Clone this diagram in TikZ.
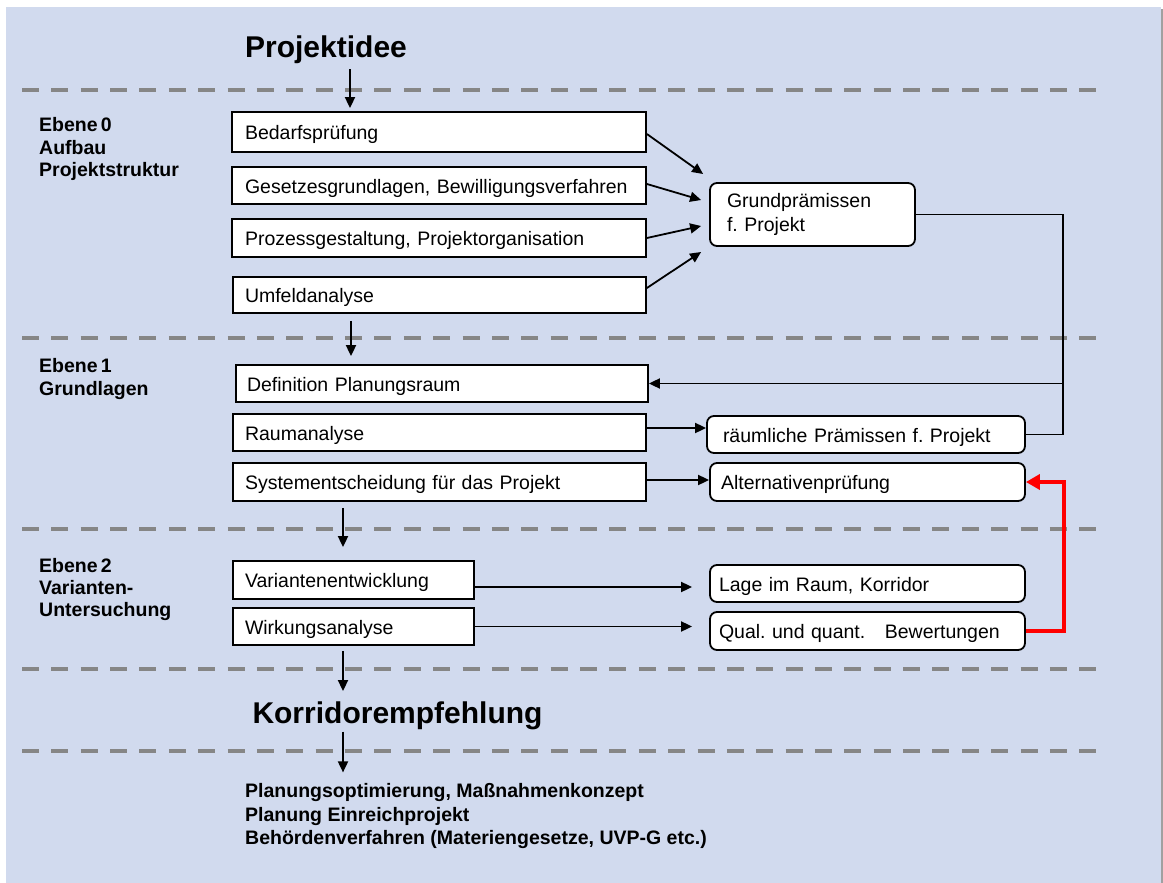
\documentclass[tikz,border=0pt]{standalone}
\usepackage{fontspec}
\setmainfont{Liberation Sans}
\usetikzlibrary{arrows.meta,calc}
\frenchspacing
\definecolor{bgblue}{RGB}{209,218,238}
\definecolor{dashgray}{RGB}{134,134,134}
\definecolor{shadowgray}{RGB}{160,160,160}
\newcommand\boxfont{\fontsize{19.5}{23.5}\selectfont}
\newcommand\lblfont{\fontsize{19.5}{22.5}\selectfont\bfseries}
\newcommand\bigfont{\fontsize{30}{36}\selectfont\bfseries}
\begin{document}
\begin{tikzpicture}[x=1pt,y=-1pt,
  shapebox/.style={draw=black, line width=1.8pt, fill=white, inner ysep=0pt, align=left, font=\boxfont, anchor=center},
  box/.style={shapebox, text height=15pt, text depth=0pt},
  rbox/.style={box, rounded corners=7pt},
  gpbox/.style={shapebox, rounded corners=7pt},
  arr/.style={line width=1.8pt, -{Triangle[length=11pt,width=10pt]}},
  conn/.style={line width=1.8pt},
  redarr/.style={draw=red, line width=4pt, -{Triangle[length=14pt,width=15pt]}},
  level/.style={dashgray, line width=4.5pt, dash pattern=on 17pt off 12.37pt},
  lbl/.style={anchor=north west, inner sep=0pt, align=left, font=\lblfont},
  title/.style={anchor=base, inner sep=0pt, font=\bigfont}
]
\useasboundingbox (0,0) rectangle (1163,883);
\fill[white] (0,0) rectangle (1163,883);
\fill[bgblue] (6,7) rectangle (1161,883);
\fill[shadowgray] (1161,9) rectangle (1163,883);

% level separators
\draw[level] (22,90) -- (1097,90);
\draw[level] (22,338) -- (1097,338);
\draw[level] (22,529) -- (1097,529);
\draw[level] (22,669) -- (1097,669);
\draw[level] (22,751) -- (1097,751);

% titles
\node[title] (proj) at (326,58) {Projektidee};
\node[title] (korr) at (397.5,723) {Korridorempfehlung};

% level labels
\node[lbl] (l0) at (39,117.4) {Ebene\,0\\Aufbau\\Projektstruktur};
\node[lbl, font=\fontsize{19.5}{23}\selectfont\bfseries] (l1) at (39,358.4) {Ebene\,1\\Grundlagen};
\node[lbl, font=\fontsize{19.5}{21.7}\selectfont\bfseries] (l2) at (39,558.4) {Ebene\,2\\Varianten-\\Untersuchung};
\node[lbl, font=\fontsize{19.5}{23.5}\selectfont\bfseries] (out) at (245,783.4) {Planungsoptimierung, Maßnahmenkonzept\\Planung Einreichprojekt\\Behördenverfahren (Materiengesetze, UVP-G etc.)};

% left column boxes
\node[box, minimum height=40pt, text width=388pt, inner xsep=13pt] (bed) at (439,132) {Bedarfsprüfung};
\node[box, minimum height=37pt, text width=388pt, inner xsep=13pt] (ges) at (439,185.5) {Gesetzesgrundlagen, Bewilligungsverfahren};
\node[box, minimum height=38pt, text width=388pt, inner xsep=13pt] (proz) at (439,238) {Prozessgestaltung, Projektorganisation};
\node[box, minimum height=36pt, text width=389pt, inner xsep=12pt] (umf) at (439.5,295) {Umfeldanalyse};
\node[box, minimum height=37pt, text width=390pt, inner xsep=11pt] (def) at (442,383.5) {Definition Planungsraum};
\node[box, minimum height=37pt, text width=389pt, inner xsep=12pt] (ram) at (439.5,432.5) {Raumanalyse};
\node[box, minimum height=38pt, text width=389pt, inner xsep=12pt] (sys) at (439.5,482) {Systementscheidung für das Projekt};
\node[box, minimum height=38pt, text width=217pt, inner xsep=12pt] (var) at (353.5,580) {Variantenentwicklung};
\node[box, minimum height=37pt, text width=217pt, inner xsep=12pt] (wirk) at (353.5,626.5) {Wirkungsanalyse};

% right column boxes
\node[gpbox, minimum height=63pt, text width=171pt, inner xsep=17pt] (gp) at (812.5,214.5) {Grundprämissen\\f. Projekt\vphantom{g}\\[3pt]};
\node[rbox, minimum height=37pt, text width=286pt, inner xsep=16pt] (raeum) at (866,434.5) {räumliche Prämissen f. Projekt};
\node[rbox, minimum height=38pt, text width=293pt, inner xsep=11pt] (alt) at (867.5,482) {Alternativenprüfung};
\node[rbox, minimum height=37pt, text width=297pt, inner xsep=9pt] (lage) at (867.5,583.5) {Lage im Raum, Korridor};
\node[rbox, minimum height=38pt, text width=297pt, inner xsep=9pt] (qual) at (867.5,631) {Qual. und quant.~~ Bewertungen};

% helper coordinates
\coordinate (xa) at (350,0);
\coordinate (xb) at (351,0);
\coordinate (xc) at (343,0);
\coordinate (vr) at (1063,0);
\coordinate (vred) at (1064,0);

% vertical flow arrows
\draw[arr] ($(proj.south -| xa)+(0,5)$) -- ($(bed.north -| xa)+(0,-3)$);
\draw[arr] ($(umf.south -| xb)+(0,7)$) -- ($(def.north -| xb)+(0,-8)$);
\draw[arr] ($(sys.south -| xc)+(0,6)$) -- ($(var.north -| xc)+(0,-13)$);
\draw[arr] ($(wirk.south -| xc)+(0,5)$) -- ($(korr.north -| xc)+(0,-10)$);
\draw[arr] ($(korr.south -| xc)+(0,2)$) -- ($(out.north -| xc)+(0,-11)$);

% into Grundpraemissen
\draw[arr] ($(bed.east)+(0,2)$) -- ($(gp.west)+(-6,-40.5)$);
\draw[arr] ($(ges.east)+(0,-1.5)$) -- ($(gp.west)+(-8,-14.5)$);
\draw[arr] (proz.east) -- ($(gp.west)+(-8,11.5)$);
\draw[arr] ($(umf.east)+(0,-7)$) -- ($(gp.west)+(-8,37.5)$);

% feedback from Grundpraemissen / raeumliche Praemissen
\draw[conn] (gp.east) -- (gp.east -| vr) -- (raeum.east -| vr) -- (raeum.east);
\draw[arr] (def.east -| vr) -- (def.east);

% horizontal arrows level 1
\draw[arr] ($(ram.east)+(0,-4.5)$) -- ($(raeum.west)+(0,-6.5)$);
\draw[arr] ($(sys.east)+(0,-2)$) -- ($(alt.west)+(0,-2)$);

% horizontal arrows level 2
\draw[arr] ($(var.east)+(0,7)$) -- ($(lage.west)+(-17,3.5)$);
\draw[arr] (wirk.east) -- ($(qual.west)+(-17,-4.5)$);

% red feedback
\draw[redarr] (qual.east) -- (qual.east -| vred) -- (alt.east -| vred) -- (alt.east);
\end{tikzpicture}
\end{document}
